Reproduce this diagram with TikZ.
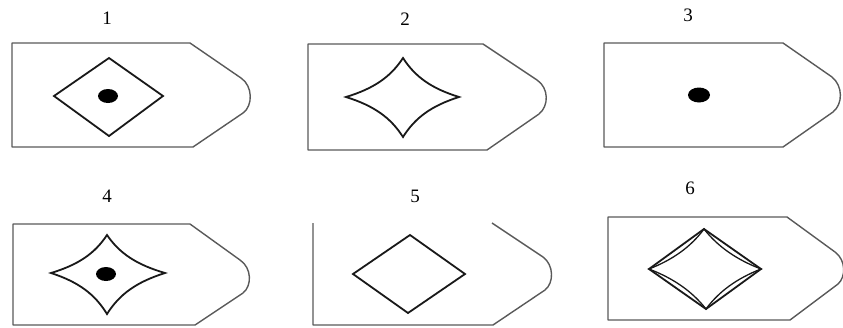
\documentclass[tikz,border=0pt]{standalone}
\usepackage{fontspec}
\setmainfont{Liberation Serif}
\usetikzlibrary{calc}
\newcommand\drawstar[7][]{%
  \draw[#1] (#2)
   .. controls ($(#2)!0.3!(#3)!#7!(#6)$) and ($(#2)!0.7!(#3)!#7!(#6)$) .. (#3)
   .. controls ($(#3)!0.3!(#4)!#7!(#6)$) and ($(#3)!0.7!(#4)!#7!(#6)$) .. (#4)
   .. controls ($(#4)!0.3!(#5)!#7!(#6)$) and ($(#4)!0.7!(#5)!#7!(#6)$) .. (#5)
   .. controls ($(#5)!0.3!(#2)!#7!(#6)$) and ($(#5)!0.7!(#2)!#7!(#6)$) .. (#2) -- cycle;}
\begin{document}
\begin{tikzpicture}[x=1pt,y=-1pt,
  outline/.style={draw=black!65, line width=1.4pt, line join=round},
  figline/.style={draw=black!90, line width=1.8pt, line join=miter},
  lbl/.style={font=\fontsize{19}{21}\selectfont, inner sep=0pt}]
\useasboundingbox (0,0) rectangle (843,327);

% ---- 1 ----
\node[lbl] (l1) at (107,18) {1};
\draw[outline] (190,43) -- (12,43) -- (12,147) -- (193,147) -- (243,113)
  .. controls (253,106) and (253,86) .. (241,78) -- cycle;
\coordinate (d1l) at (54,96); \coordinate (d1t) at (109,58);
\coordinate (d1r) at (163,96); \coordinate (d1b) at (109,136);
\draw[figline] (d1l) -- (d1t) -- (d1r) -- (d1b) -- cycle;
\fill (108,96) ellipse [x radius=10, y radius=7];

% ---- 2 ----
\node[lbl] (l2) at (405,19) {2};
\draw[outline] (483,44) -- (308,44) -- (308,150) -- (487,150) -- (539,114)
  .. controls (549,106) and (549,88) .. (537,80) -- cycle;
\coordinate (s2l) at (346,97); \coordinate (s2t) at (403,58);
\coordinate (s2r) at (459,97); \coordinate (s2b) at (403,137);
\coordinate (s2c) at (403,97);
\drawstar[figline]{s2l}{s2t}{s2r}{s2b}{s2c}{0.27}

% ---- 3 ----
\node[lbl] (l3) at (688,15) {3};
\draw[outline] (783,43) -- (604,43) -- (604,147) -- (783,147) -- (833,112)
  .. controls (843,104) and (843,86) .. (832,77) -- cycle;
\fill (699,95) ellipse [x radius=11, y radius=7.5];

% ---- 4 ----
\node[lbl] (l4) at (107,196) {4};
\draw[outline] (190,224) -- (13,224) -- (13,325) -- (195,325) -- (243,293)
  .. controls (252,286) and (252,268) .. (240,260) -- cycle;
\coordinate (s4l) at (51,273); \coordinate (s4t) at (107,235);
\coordinate (s4r) at (165,273); \coordinate (s4b) at (107,314);
\coordinate (s4c) at (107,273);
\drawstar[figline]{s4l}{s4t}{s4r}{s4b}{s4c}{0.27}
\fill (106,274) ellipse [x radius=10, y radius=7];

% ---- 5 ----
\node[lbl] (l5) at (415,196) {5};
\draw[outline] (313,223) -- (313,325) -- (493,325) -- (545,290)
  .. controls (554,283) and (554,265) .. (543,257) -- (492,223);
\coordinate (d5l) at (353,274); \coordinate (d5t) at (410,235);
\coordinate (d5r) at (465,274); \coordinate (d5b) at (408,313);
\draw[figline] (d5l) -- (d5t) -- (d5r) -- (d5b) -- cycle;

% ---- 6 ----
\node[lbl] (l6) at (690,188) {6};
\draw[outline] (787,217) -- (608,217) -- (608,320) -- (790,320) -- (838,284)
  .. controls (846,277) and (846,260) .. (835,252) -- cycle;
\coordinate (d6l) at (649,269); \coordinate (d6t) at (704,229);
\coordinate (d6r) at (761,269); \coordinate (d6b) at (706,309);
\coordinate (d6c) at (705,269);
\draw[figline] (d6l) -- (d6t) -- (d6r) -- (d6b) -- cycle;
\drawstar[figline, line width=1.3pt]{d6l}{d6t}{d6r}{d6b}{d6c}{0.2}
\end{tikzpicture}
\end{document}
